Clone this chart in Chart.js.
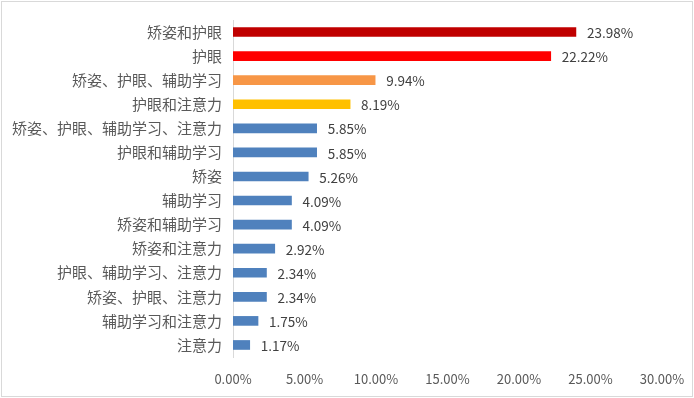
<!DOCTYPE html>
<html lang="zh">
<head>
<meta charset="UTF-8">
<title>chart</title>
<script src="https://cdn.jsdelivr.net/npm/chart.js"></script>
<style>
  html, body { margin: 0; padding: 0; background: #fff; }
  .box { position: absolute; left: 0; top: 0; width: 694px; height: 398px; }
  .frame { position: absolute; left: 1px; top: 1px; width: 690px; height: 394px; border: 1px solid #d9d9d9; pointer-events: none; }
</style>
</head>
<body>
<div class="box">
  <canvas id="gf1" width="694" height="398"></canvas>
  <div class="frame"></div>
</div>
<script>
  const categorias = ['矫姿和护眼', '护眼', '矫姿、护眼、辅助学习', '护眼和注意力', '矫姿、护眼、辅助学习、注意力',
    '护眼和辅助学习', '矫姿', '辅助学习', '矫姿和辅助学习', '矫姿和注意力', '护眼、辅助学习、注意力',
    '矫姿、护眼、注意力', '辅助学习和注意力', '注意力']
  const valores = [23.98, 22.22, 9.94, 8.19, 5.85, 5.85, 5.26, 4.09, 4.09, 2.92, 2.34, 2.34, 1.75, 1.17]
  const cores = ['#C00000', '#FF0000', '#F79646', '#FFC000', '#4F81BD', '#4F81BD', '#4F81BD', '#4F81BD',
    '#4F81BD', '#4F81BD', '#4F81BD', '#4F81BD', '#4F81BD', '#4F81BD']
  const ticksX = [0, 5, 10, 15, 20, 25, 30]

  const fonte = '"Noto Sans CJK SC", "Noto Sans", sans-serif'

  // rotulos de valor na ponta de cada barra
  const rotulos = {
    id: 'rotulos',
    afterDatasetsDraw(chart) {
      const ctx = chart.ctx
      const meta = chart.getDatasetMeta(0)
      ctx.save()
      ctx.font = '13.5px ' + fonte
      ctx.fillStyle = '#404040'
      ctx.textAlign = 'left'
      ctx.textBaseline = 'middle'
      meta.data.forEach(function (bar, i) {
        ctx.fillText(valores[i].toFixed(2) + '%', bar.x + 11, bar.y + 1)
      })
      ctx.restore()
    }
  }

  const ctx = document.getElementById('gf1').getContext('2d')
  new Chart(ctx, {
    type: 'bar',
    data: {
      labels: categorias,
      datasets: [{
        data: valores,
        backgroundColor: cores,
        barThickness: 9
      }]
    },
    options: {
      indexAxis: 'y',
      responsive: false,
      animation: false,
      layout: { padding: { top: 19, right: 32, left: 0, bottom: 0 } },
      plugins: { legend: { display: false }, tooltip: { enabled: false } },
      scales: {
        x: {
          min: 0,
          max: 30,
          afterBuildTicks(scale) {
            scale.ticks = ticksX.map(function (v) { return { value: v } })
          },
          afterFit(scale) {
            scale.height = 41
            scale.paddingLeft = 0
            scale.paddingRight = 0
          },
          grid: { display: false, drawTicks: false },
          border: { display: false },
          ticks: {
            padding: 14,
            color: '#595959',
            font: { size: 13, family: fonte },
            callback: function (v) { return v.toFixed(2) + '%' }
          }
        },
        y: {
          afterFit(scale) { scale.width = 233 },
          grid: { display: false, drawTicks: false },
          border: { display: true, color: '#d9d9d9' },
          ticks: {
            padding: 11,
            color: '#595959',
            font: { size: 15, family: fonte }
          }
        }
      }
    },
    plugins: [rotulos]
  })
</script>
</body>
</html>
